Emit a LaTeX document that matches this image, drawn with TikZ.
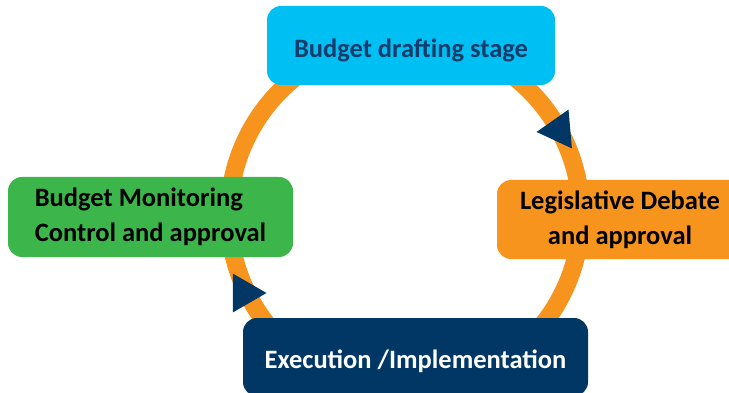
\documentclass[tikz,border=0pt]{standalone}
\usepackage{fontspec}
\setmainfont{Carlito}
\usetikzlibrary{shapes.geometric}
\definecolor{skyblue}{HTML}{00BFF3}
\definecolor{navy}{HTML}{003764}
\definecolor{navytext}{HTML}{173C6B}
\definecolor{leafgreen}{HTML}{3CB64A}
\definecolor{amber}{HTML}{F7941D}
\newcommand{\dropby}[2]{\raisebox{-#1}[\height][0pt]{#2}}
\tikzset{
  stage/.style={rounded corners=14pt, inner sep=0pt, font=\fontsize{26.5}{35}\selectfont\bfseries},
  turn/.style={regular polygon, regular polygon sides=3, fill=navy, inner sep=0pt, minimum size=45pt},
}
\begin{document}
\begin{tikzpicture}[x=1pt, y=-1pt]
  \useasboundingbox (0,0) rectangle (729,393);
  \clip (0,0) rectangle (729,393);
  % cycle ring
  \coordinate (hub) at (405,215);
  \draw[amber, line width=18pt] (hub) circle[radius=176pt];
  % stages
  \node[stage, fill=skyblue, text=navytext, minimum width=288pt, minimum height=79pt]
    (draft) at (411,45.5) {\dropby{3pt}{Budget drafting stage}};
  \node[stage, fill=amber, text=black, minimum width=246pt, minimum height=79pt, align=center]
    (debate) at (620,219.5) {Legislative Debate\\and approval};
  \node[stage, fill=navy, text=white, minimum width=345pt, minimum height=78pt]
    (exec) at (415.5,357) {\dropby{2pt}{Execution /Implementation}};
  \node[stage, fill=leafgreen, text=black, minimum width=285pt, minimum height=80pt, align=left]
    (monitor) at (150.5,217) {Budget Monitoring\\Control and approval};
  % direction markers on the ring
  \node[turn, rotate=95] (toDebate) at (559,130) {};
  \node[turn, rotate=-90] (toExec) at (244,293) {};
\end{tikzpicture}
\end{document}
